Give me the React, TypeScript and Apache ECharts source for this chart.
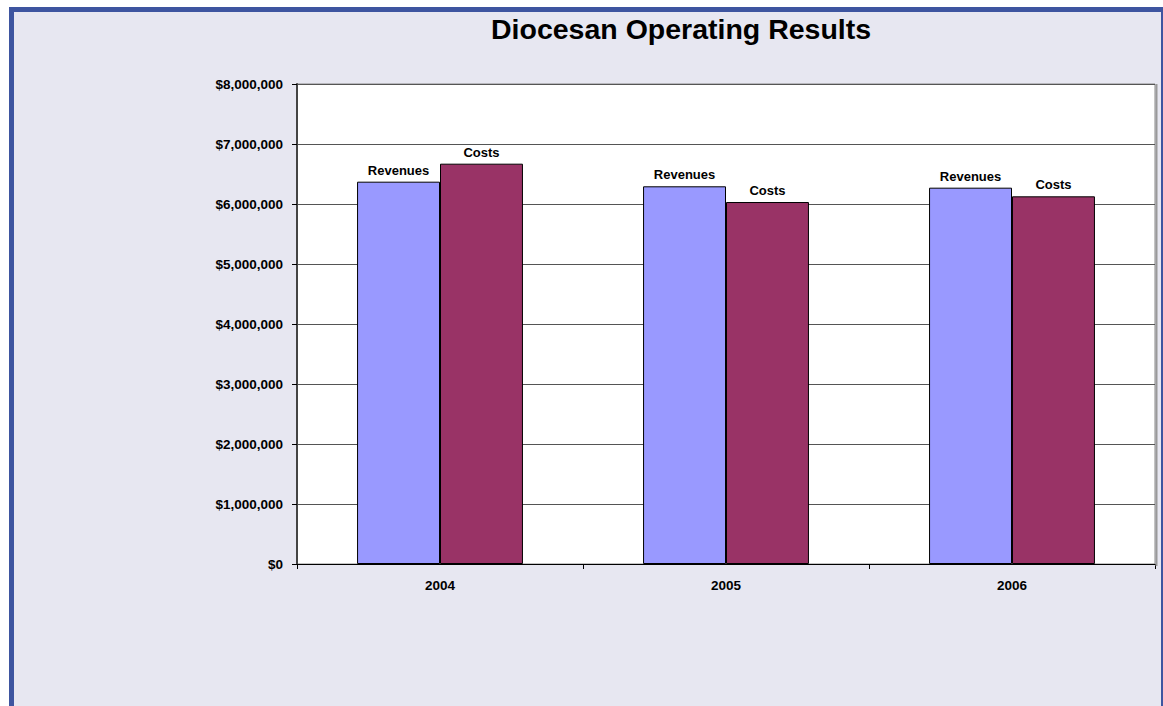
import React, { useEffect, useRef } from "react";
import * as echarts from "echarts";

const categories = ["2004", "2005", "2006"];
const revenues = [6372000, 6295000, 6272000];
const costs = [6672000, 6033000, 6128000];
const seriesNames = ["Revenues", "Costs"];

const fmt = (v: number) => "$" + v.toLocaleString("en-US");

export default function App() {
  const ref = useRef<HTMLDivElement>(null);
  useEffect(() => {
    if (!ref.current) return;
    const chart = echarts.init(ref.current, null, { renderer: "svg" });
    const font = "Liberation Sans, Arial, sans-serif";
    const label = {
      show: true,
      position: "top" as const,
      formatter: (p: any) => p.seriesName,
      color: "#000",
      fontWeight: "bold" as const,
      fontSize: 13,
      fontFamily: font,
      distance: 5,
    };
    chart.setOption({
      animation: false,
      backgroundColor: "#ffffff",
      graphic: [
        {
          type: "rect",
          z: -10,
          shape: { x: 11.5, y: 9.5, width: 1152, height: 800 },
          style: { fill: "#E7E7F1", stroke: "#3E55A0", lineWidth: 5 },
          silent: true,
        },
        {
          type: "line",
          z: 5,
          shape: { x1: 1156.5, y1: 84, x2: 1156.5, y2: 566 },
          style: { stroke: "#999", lineWidth: 2 },
          silent: true,
        },
      ],
      title: {
        text: "Diocesan Operating Results",
        left: 486,
        top: 9,
        textStyle: { fontFamily: font, fontWeight: "bold", fontSize: 28.5, color: "#000" },
      },
      grid: {
        left: 297,
        right: 8,
        top: 84,
        bottom: 142,
        show: true,
        backgroundColor: "#ffffff",
        borderColor: "#888",
        borderWidth: 1,
      },
      xAxis: {
        type: "category",
        data: categories,
        axisLine: { lineStyle: { color: "#000", width: 1 } },
        axisTick: { show: true, length: 5, lineStyle: { color: "#000" } },
        axisLabel: { color: "#000", fontWeight: "bold", fontSize: 13.5, fontFamily: font, margin: 14 },
      },
      yAxis: {
        type: "value",
        min: 0,
        max: 8000000,
        interval: 1000000,
        axisLine: { show: true, lineStyle: { color: "#444", width: 2 } },
        axisTick: { show: true, length: 5, lineStyle: { color: "#000" } },
        axisLabel: {
          color: "#000",
          fontWeight: "bold",
          fontSize: 13.5,
          fontFamily: font,
          margin: 14,
          formatter: (v: number) => fmt(v),
        },
        splitLine: { lineStyle: { color: "#555", width: 1 } },
      },
      series: [
        {
          name: seriesNames[0],
          type: "bar",
          data: revenues,
          barGap: "0%",
          barCategoryGap: "42%",
          itemStyle: { color: "#9999FF", borderColor: "#000", borderWidth: 1 },
          label,
        },
        {
          name: seriesNames[1],
          type: "bar",
          data: costs,
          itemStyle: { color: "#993366", borderColor: "#000", borderWidth: 1 },
          label,
        },
      ],
    });
    return () => chart.dispose();
  }, []);
  return (
    <div
      ref={ref}
      style={{ position: "fixed", left: 0, top: 0, width: 1163, height: 706 }}
    />
  );
}
